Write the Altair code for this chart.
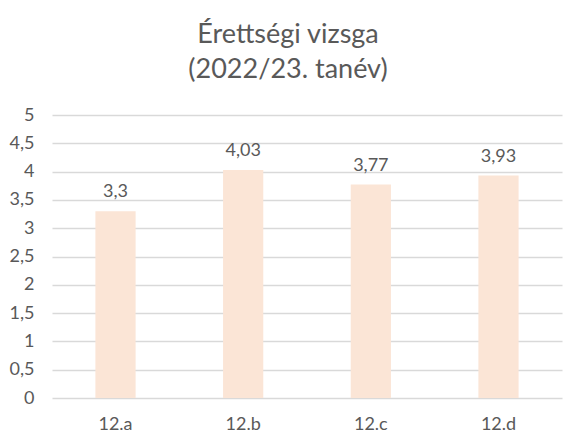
import altair as alt
import pandas as pd

categories = ["12.a", "12.b", "12.c", "12.d"]
values = [3.3, 4.03, 3.77, 3.93]
y_ticks = [0, 0.5, 1, 1.5, 2, 2.5, 3, 3.5, 4, 4.5, 5]

df = pd.DataFrame({"osztaly": categories, "atlag": values})

FONT = "Lato"
TXT = "#595959"

base = alt.Chart(df).transform_calculate(
    lbl="replace(toString(datum.atlag), '.', ',')"
).encode(
    x=alt.X("osztaly:N", sort=categories, title=None,
            scale=alt.Scale(paddingInner=0.685, paddingOuter=0.34),
            axis=alt.Axis(labelAngle=0, ticks=False, domain=False, labelPadding=17,
                          labelFontSize=18, labelColor=TXT, labelFont=FONT)),
    y=alt.Y("atlag:Q", title=None,
            scale=alt.Scale(domain=[0, 5], nice=False),
            axis=alt.Axis(values=y_ticks, format="~g", labelOverlap=False,
                          labelExpr="replace(datum.label, '.', ',')",
                          ticks=False, domain=False, labelPadding=18,
                          gridColor="#D9D9D9", gridWidth=1.3,
                          labelFontSize=18, labelColor=TXT, labelFont=FONT)),
)

bars = base.mark_bar(color="#FBE5D6")

labels = base.mark_text(baseline="alphabetic", dy=-14, fontSize=18, color=TXT, font=FONT).encode(
    text="lbl:N",
)

chart = (bars + labels).properties(
    width=510,
    height=283,
    title=alt.TitleParams(
        text=["Érettségi vizsga", "(2022/23. tanév)"],
        fontSize=27, font=FONT, color=TXT, fontWeight="normal",
        lineHeight=35, anchor="middle", dx=-19, offset=22,
    ),
    autosize=alt.AutoSizeParams(type="none"),
    padding={"left": 44, "top": 107, "right": 15, "bottom": 41},
).configure_view(stroke=None)

chart.save("out.html", embed_options={"renderer": "svg", "actions": False})
